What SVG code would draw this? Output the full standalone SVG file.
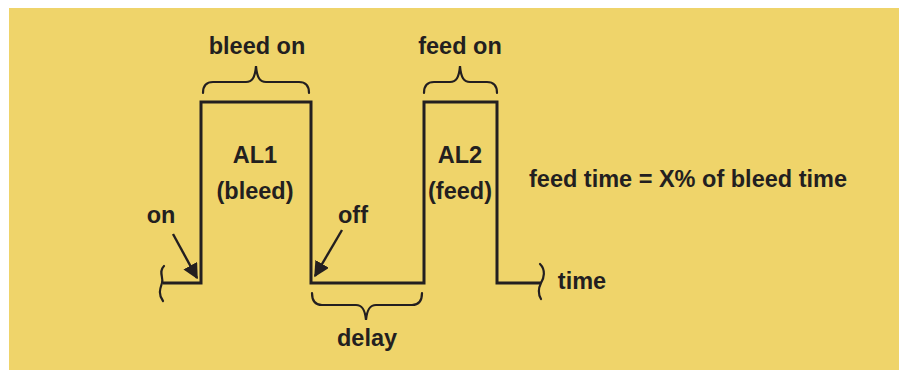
<svg xmlns="http://www.w3.org/2000/svg" width="899" height="370" viewBox="0 0 899 370">
<defs>
<style>
.t{font-family:"Liberation Sans",Arial,Helvetica,sans-serif;font-weight:bold;font-size:23.5px;fill:#231f20;text-anchor:middle}
.w{fill:none;stroke:#231f20;stroke-width:3;stroke-linejoin:miter}
.b{fill:none;stroke:#231f20;stroke-width:2.2;stroke-linecap:round}
.a{stroke:#231f20;stroke-width:2.4}
</style>
<marker id="ah" viewBox="0 0 10 10" refX="9" refY="5" markerWidth="6.5" markerHeight="6.5" markerUnits="strokeWidth" orient="auto">
<path d="M0,0 L10,5 L0,10 Z" fill="#231f20"/>
</marker>
</defs>
<rect x="9" y="8" width="890" height="362" fill="#efd46a"/>
<g id="waveform">
<path class="w" d="M163,283 H201 V102 H311 V283 H424 V102 H497 V283 H541"/>
<path class="b" d="M164,266 C158,272 164,278 162,283 C160,289 158,294 163,301"/>
<path class="b" d="M540,264 C546,270 544,278 541,283 C538,289 538,294 541,299"/>
</g>
<g id="bleed-on">
<path class="b" d="M203,93 C203,86 206,82 213,82 H246 C252,82 255,78 256,66 C257,78 260,82 266,82 H299 C306,82 309,86 309,93"/>
<text class="t" x="257" y="54">bleed on</text>
</g>
<g id="feed-on">
<path class="b" d="M424,93 C424,86 427,82 434,82 H450 C456,82 459,78 460,66 C461,78 464,82 470,82 H487 C494,82 497,86 497,93"/>
<text class="t" x="460" y="54">feed on</text>
</g>
<g id="delay">
<path class="b" d="M312,293 C312,300 315,305 322,305 H356 C362,305 365,309 366,320 C367,309 370,305 376,305 H412 C419,305 422,300 422,293"/>
<text class="t" x="367" y="346">delay</text>
</g>
<g id="al1">
<text class="t" x="255" y="163">AL1</text>
<text class="t" x="255" y="199">(bleed)</text>
</g>
<g id="al2">
<text class="t" x="460" y="163">AL2</text>
<text class="t" x="460" y="199">(feed)</text>
</g>
<g id="on-label"><text class="t" x="161" y="223">on</text></g>
<g id="off-label"><text class="t" x="353" y="223">off</text></g>
<g id="formula"><text class="t" x="688" y="187">feed time = X% of bleed time</text></g>
<g id="time-label"><text class="t" x="582" y="289">time</text></g>
<g id="connectors">
<line class="a" x1="173" y1="234" x2="197" y2="278" marker-end="url(#ah)"/>
<line class="a" x1="342" y1="230" x2="315" y2="276" marker-end="url(#ah)"/>
</g>
</svg>
